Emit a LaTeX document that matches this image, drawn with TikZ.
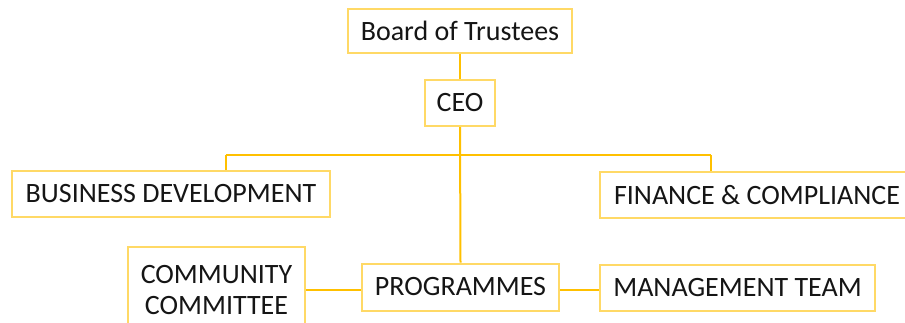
\documentclass[tikz,border=0pt]{standalone}
\usepackage{fontspec}
\setmainfont{Carlito}
\definecolor{boxline}{HTML}{FFD966}
\definecolor{conn}{HTML}{FFC000}
\definecolor{txt}{HTML}{151515}
\tikzset{
  orgbox/.style={draw=boxline, line width=2pt, fill=white, text=txt, inner sep=0pt, align=center,
    font=\fontsize{28}{31}\selectfont},
  link/.style={draw=conn, line width=2pt}
}
\begin{document}
\begin{tikzpicture}[x=1pt,y=-1pt]
\useasboundingbox (0,0) rectangle (905,322);
\clip (0,0) rectangle (905,322);
\node[orgbox, minimum width=224pt, minimum height=44pt] (board) at (460,31) {Board of Trustees};
\node[orgbox, minimum width=70pt, minimum height=46pt] (ceo) at (460,103) {CEO};
\node[orgbox, minimum width=318pt, minimum height=46pt] (bd) at (171,194) {BUSINESS DEVELOPMENT};
\node[orgbox, minimum width=314pt, minimum height=46pt] (fc) at (757,195) {FINANCE \& COMPLIANCE};
\node[orgbox, minimum width=177pt, minimum height=86pt] (cc) at (216.5,290) {COMMUNITY\\COMMITTEE};
\node[orgbox, minimum width=197pt, minimum height=47pt] (prog) at (460.5,287) {PROGRAMMES};
\node[orgbox, minimum width=275pt, minimum height=46pt] (mt) at (737.5,288) {MANAGEMENT TEAM};
\coordinate (busL) at (226,155);
\coordinate (busR) at (711,155);
\path[link] (board.south) -- (ceo.north);
\path[link] (ceo.south) -- (prog.north);
\path[link] (busL) -- (busR);
\path[link] (busL) -- (busL |- bd.north);
\path[link] (busR) -- (busR |- fc.north);
\path[link] (cc.east) -- (cc.east -| prog.west);
\path[link] (prog.east |- cc.east) -- (mt.west |- cc.east);
\end{tikzpicture}
\end{document}
